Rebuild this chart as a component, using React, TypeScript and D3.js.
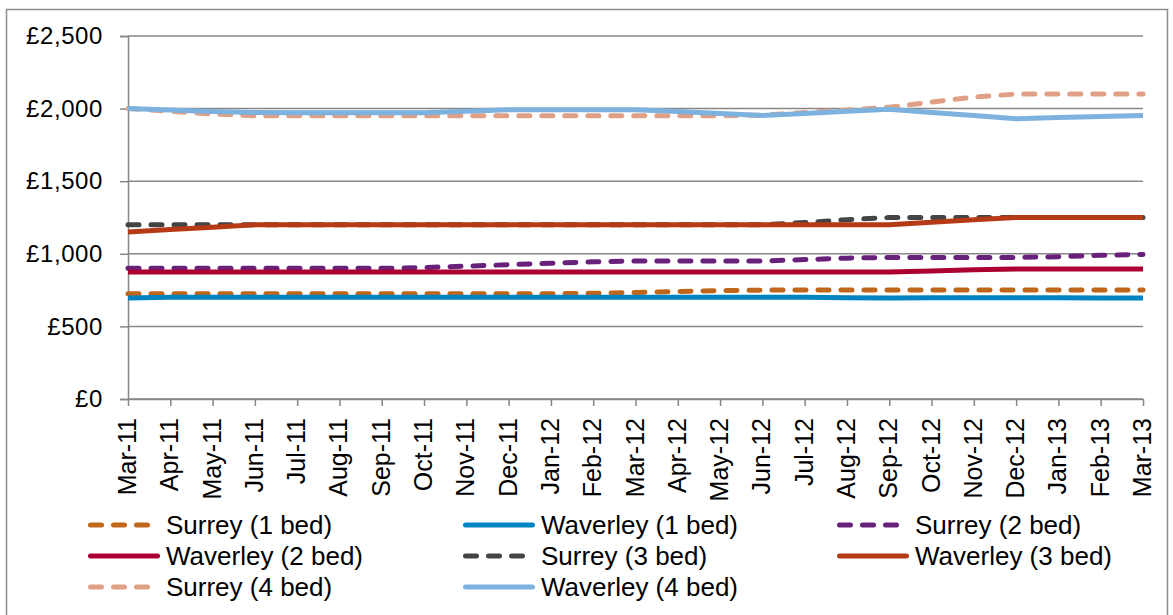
import * as React from 'react';
import * as d3 from 'd3';

const MONTHS = [
    'Mar-11', 'Apr-11', 'May-11', 'Jun-11', 'Jul-11', 'Aug-11', 'Sep-11', 'Oct-11', 'Nov-11',
    'Dec-11', 'Jan-12', 'Feb-12', 'Mar-12', 'Apr-12', 'May-12', 'Jun-12', 'Jul-12', 'Aug-12',
    'Sep-12', 'Oct-12', 'Nov-12', 'Dec-12', 'Jan-13', 'Feb-13', 'Mar-13'
];

const Y_TICKS = [0, 500, 1000, 1500, 2000, 2500];

const SURREY_1 = [725, 725, 725, 725, 725, 725, 725, 725, 725, 725, 725, 728, 734, 740, 746, 750, 750, 750, 750, 750, 750, 750, 750, 750, 750];
const WAVERLEY_1 = [695, 700, 700, 700, 700, 700, 700, 700, 700, 700, 700, 700, 700, 700, 700, 700, 700, 698, 695, 697, 697, 697, 697, 695, 695];
const SURREY_2 = [900, 900, 900, 900, 900, 900, 900, 905, 915, 925, 935, 945, 950, 950, 950, 950, 960, 970, 975, 975, 975, 975, 980, 990, 995];
const WAVERLEY_2 = [875, 875, 875, 875, 875, 875, 875, 875, 875, 875, 875, 875, 875, 875, 875, 875, 875, 875, 875, 882, 890, 895, 895, 895, 895];
const SURREY_3 = [1200, 1200, 1200, 1200, 1200, 1200, 1200, 1200, 1200, 1200, 1200, 1200, 1200, 1200, 1200, 1200, 1215, 1235, 1250, 1250, 1250, 1250, 1250, 1250, 1250];
const WAVERLEY_3 = [1150, 1167, 1183, 1200, 1200, 1200, 1200, 1200, 1200, 1200, 1200, 1200, 1200, 1200, 1200, 1200, 1200, 1200, 1200, 1217, 1235, 1250, 1250, 1250, 1250];
const SURREY_4 = [2000, 1982, 1963, 1950, 1950, 1950, 1950, 1950, 1950, 1950, 1950, 1950, 1950, 1950, 1950, 1955, 1973, 1990, 2010, 2045, 2080, 2100, 2100, 2100, 2100];
const WAVERLEY_4 = [2000, 1990, 1980, 1973, 1972, 1972, 1972, 1972, 1982, 1992, 1992, 1992, 1992, 1980, 1966, 1952, 1967, 1981, 1995, 1973, 1952, 1930, 1938, 1946, 1953];

interface Series {
    name: string;
    values: number[];
    color: string;
    dashed: boolean;
}

const SERIES: Series[] = [
    { name: 'Surrey (1 bed)', values: SURREY_1, color: '#c0661b', dashed: true },
    { name: 'Waverley (1 bed)', values: WAVERLEY_1, color: '#0083c1', dashed: false },
    { name: 'Surrey (2 bed)', values: SURREY_2, color: '#68217a', dashed: true },
    { name: 'Waverley (2 bed)', values: WAVERLEY_2, color: '#ad0032', dashed: false },
    { name: 'Surrey (3 bed)', values: SURREY_3, color: '#444444', dashed: true },
    { name: 'Waverley (3 bed)', values: WAVERLEY_3, color: '#b43b16', dashed: false },
    { name: 'Surrey (4 bed)', values: SURREY_4, color: '#e0a085', dashed: true },
    { name: 'Waverley (4 bed)', values: WAVERLEY_4, color: '#7db1de', dashed: false }
];

const FONT = '"Liberation Sans", Arial, sans-serif';
const GRID = '#878787';
const LINE_W = 5;
const DASH = '11,12';

const fmt = (v: number) => '£' + d3.format(',')(v);

const App: React.FC = () => {
    const svgRef = React.useRef<SVGSVGElement>(null);

    React.useEffect(() => {
        const svg = d3.select(svgRef.current);
        svg.selectAll('*').remove();

        /** ******** Frame ********* */
        svg.append('rect')
            .attr('x', 6.5)
            .attr('y', 9.5)
            .attr('width', 1161)
            .attr('height', 640)
            .attr('fill', '#fff')
            .attr('stroke', '#8c8c8c')
            .attr('stroke-width', 1.5);

        /** ******** Scales ********* */
        const LEFT = 128;
        const RIGHT = 1143;
        const TOP = 36;
        const BOTTOM = 399;

        const xScale = d3.scalePoint<string>().domain(MONTHS).range([LEFT, RIGHT]).padding(0);
        const yScale = d3.scaleLinear().domain([0, 2500]).range([BOTTOM, TOP]);

        // Gridlines
        svg.append('g')
            .selectAll('line')
            .data(Y_TICKS)
            .enter()
            .append('line')
            .attr('x1', LEFT)
            .attr('x2', RIGHT)
            .attr('y1', (d) => yScale(d))
            .attr('y2', (d) => yScale(d))
            .attr('stroke', GRID)
            .attr('stroke-width', 1.5);

        /** ******** Axis ********* */
        const yAxis = d3.axisLeft(yScale).tickValues(Y_TICKS).tickSize(8).tickPadding(17).tickFormat((d) => fmt(+d));
        const yAxisDom = svg.append('g').attr('transform', `translate(${LEFT},0)`).call(yAxis);
        yAxisDom.select('.domain').attr('stroke', GRID).attr('stroke-width', 1.5);
        yAxisDom.selectAll('.tick line').attr('stroke', GRID).attr('stroke-width', 1.5);
        yAxisDom.selectAll('.tick text')
            .attr('font-family', FONT)
            .attr('font-size', 24)
            .attr('letter-spacing', 0.6)
            .attr('fill', '#000');

        const xAxis = d3.axisBottom(xScale).tickSize(7).tickSizeOuter(0);
        const xAxisDom = svg.append('g').attr('transform', `translate(0,${BOTTOM})`).call(xAxis);
        xAxisDom.select('.domain').attr('stroke', GRID).attr('stroke-width', 1.5);
        xAxisDom.selectAll('.tick line').attr('stroke', GRID).attr('stroke-width', 1.5);
        xAxisDom.selectAll('.tick text')
            .attr('font-family', FONT)
            .attr('font-size', 25)
            .attr('fill', '#000')
            .attr('text-anchor', 'end')
            .attr('transform', 'rotate(-90)')
            .attr('x', -19)
            .attr('y', 0)
            .attr('dy', '0.3em');

        /** ******** Lines ********* */
        const line = d3
            .line<number>()
            .x((_, i) => xScale(MONTHS[i])!)
            .y((d) => yScale(d));

        svg.append('g')
            .selectAll('path')
            .data(SERIES)
            .enter()
            .append('path')
            .attr('d', (s) => line(s.values))
            .attr('fill', 'none')
            .attr('stroke', (s) => s.color)
            .attr('stroke-width', LINE_W)
            .attr('stroke-linejoin', 'round')
            .attr('stroke-linecap', (s) => (s.dashed ? 'round' : 'butt'))
            .attr('stroke-dasharray', (s) => (s.dashed ? DASH : null));

        /** ******** Legend ********* */
        const COLS = [88, 463, 837];
        const ROWS = [525, 556, 587];
        const legend = svg.append('g');
        const items = legend
            .selectAll('g')
            .data(SERIES)
            .enter()
            .append('g')
            .attr('transform', (_, i) => `translate(${COLS[i % 3]},${ROWS[Math.floor(i / 3)]})`);
        items.append('line')
            .attr('x1', 2.5)
            .attr('x2', 69.5)
            .attr('y1', 0)
            .attr('y2', 0)
            .attr('stroke', (s) => s.color)
            .attr('stroke-width', LINE_W)
            .attr('stroke-linecap', 'round')
            .attr('stroke-dasharray', (s) => (s.dashed ? DASH : null));
        items.append('text')
            .attr('x', 78)
            .attr('dy', '0.35em')
            .attr('font-family', FONT)
            .attr('font-size', 26)
            .attr('fill', '#000')
            .text((s) => s.name);
    });

    return <svg ref={svgRef} width={1173} height={615} style={{ position: 'absolute', left: 0, top: 0 }} />;
};

export default App;
